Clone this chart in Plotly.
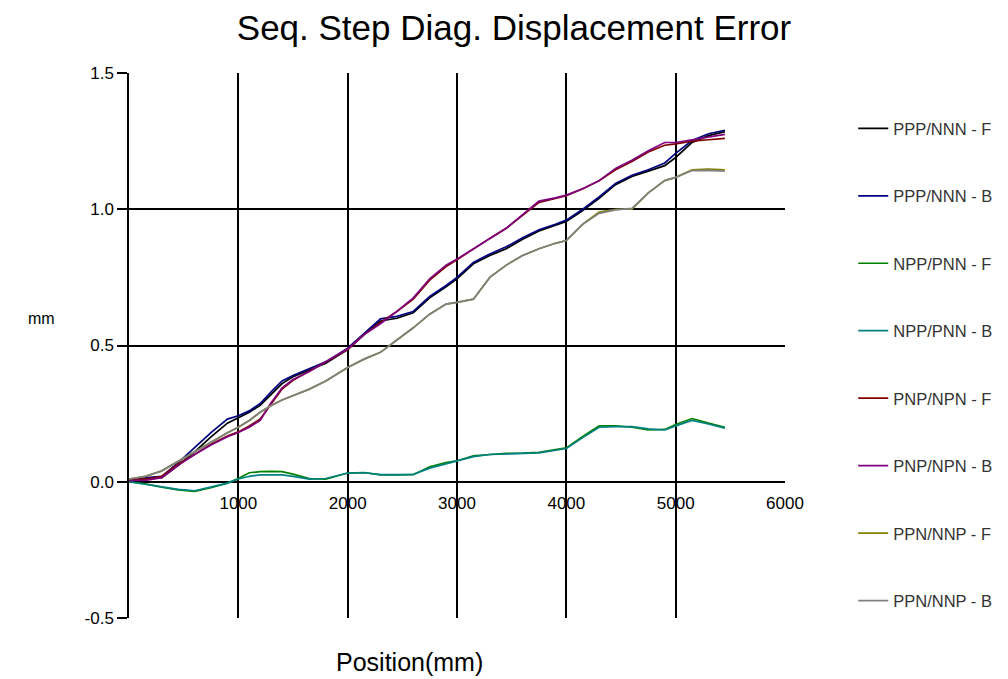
import plotly.graph_objects as go

# Position (mm)
position = [0, 150, 300, 450, 600, 750, 900, 1000, 1100, 1200, 1300, 1400, 1500, 1650, 1800,
            2000, 2150, 2300, 2450, 2600, 2750, 2900, 3000, 3150, 3300, 3450, 3600, 3750, 3900,
            4000, 4150, 4300, 4450, 4600, 4750, 4900, 5000, 5150, 5300, 5450]

ppp_nnn_f = [0.005, 0.01, 0.015, 0.06, 0.11, 0.165, 0.215, 0.235, 0.255, 0.28, 0.32, 0.36, 0.385, 0.41, 0.435,
             0.485, 0.54, 0.59, 0.60, 0.62, 0.675, 0.715, 0.745, 0.80, 0.83, 0.855, 0.89, 0.92, 0.94,
             0.955, 0.995, 1.04, 1.09, 1.12, 1.14, 1.16, 1.19, 1.245, 1.27, 1.285]
ppp_nnn_b = [0.01, 0.015, 0.02, 0.07, 0.126, 0.18, 0.23, 0.242, 0.26, 0.287, 0.33, 0.37, 0.39, 0.415, 0.44,
             0.49, 0.545, 0.598, 0.607, 0.625, 0.68, 0.72, 0.75, 0.805, 0.836, 0.862, 0.895, 0.925, 0.945,
             0.96, 1.0, 1.045, 1.095, 1.125, 1.145, 1.17, 1.205, 1.252, 1.277, 1.29]
npp_pnn_f = [0.0, -0.008, -0.02, -0.03, -0.035, -0.022, -0.005, 0.012, 0.033, 0.037, 0.038, 0.037, 0.028, 0.012, 0.01,
             0.032, 0.034, 0.025, 0.025, 0.026, 0.055, 0.07, 0.077, 0.095, 0.10, 0.104, 0.105, 0.108, 0.118,
             0.124, 0.166, 0.205, 0.205, 0.20, 0.19, 0.192, 0.21, 0.232, 0.215, 0.20]
npp_pnn_b = [0.0, -0.01, -0.02, -0.028, -0.033, -0.02, -0.005, 0.01, 0.02, 0.025, 0.025, 0.025, 0.02, 0.01, 0.012,
             0.032, 0.033, 0.026, 0.026, 0.027, 0.05, 0.066, 0.075, 0.092, 0.10, 0.103, 0.104, 0.106, 0.115,
             0.122, 0.162, 0.20, 0.202, 0.202, 0.194, 0.19, 0.205, 0.225, 0.212, 0.197]
pnp_npn_f = [0.01, 0.01, 0.02, 0.065, 0.10, 0.138, 0.168, 0.183, 0.205, 0.23, 0.285, 0.34, 0.372, 0.405, 0.44,
             0.485, 0.54, 0.585, 0.625, 0.67, 0.74, 0.79, 0.815, 0.855, 0.893, 0.93, 0.978, 1.025, 1.04,
             1.05, 1.075, 1.105, 1.145, 1.175, 1.21, 1.235, 1.24, 1.25, 1.255, 1.26]
pnp_npn_b = [0.005, 0.005, 0.015, 0.06, 0.10, 0.135, 0.165, 0.181, 0.20, 0.225, 0.29, 0.345, 0.375, 0.405, 0.44,
             0.488, 0.54, 0.58, 0.625, 0.675, 0.745, 0.795, 0.817, 0.855, 0.895, 0.93, 0.98, 1.03, 1.042,
             1.052, 1.075, 1.105, 1.15, 1.18, 1.215, 1.245, 1.245, 1.255, 1.265, 1.275]
ppn_nnp_f = [0.01, 0.02, 0.04, 0.075, 0.108, 0.145, 0.18, 0.20, 0.225, 0.255, 0.28, 0.30, 0.315, 0.34, 0.37,
             0.419, 0.45, 0.475, 0.52, 0.565, 0.615, 0.652, 0.658, 0.67, 0.75, 0.795, 0.83, 0.855, 0.875,
             0.885, 0.945, 0.99, 1.0, 1.0, 1.06, 1.105, 1.117, 1.145, 1.147, 1.145]
ppn_nnp_b = [0.01, 0.02, 0.04, 0.075, 0.108, 0.145, 0.18, 0.20, 0.225, 0.255, 0.28, 0.30, 0.315, 0.34, 0.37,
             0.419, 0.45, 0.475, 0.52, 0.565, 0.615, 0.652, 0.658, 0.67, 0.75, 0.795, 0.83, 0.855, 0.875,
             0.885, 0.945, 0.985, 0.998, 1.003, 1.06, 1.105, 1.117, 1.142, 1.143, 1.14]

series_names = ["PPP/NNN - F", "PPP/NNN - B", "NPP/PNN - F", "NPP/PNN - B",
                "PNP/NPN - F", "PNP/NPN - B", "PPN/NNP - F", "PPN/NNP - B"]
series_values = [ppp_nnn_f, ppp_nnn_b, npp_pnn_f, npp_pnn_b,
                 pnp_npn_f, pnp_npn_b, ppn_nnp_f, ppn_nnp_b]
series_colors = ["#000000", "#000080", "#008000", "#008080",
                 "#800000", "#800080", "#808000", "#808080"]

x_ticks = [1000, 2000, 3000, 4000, 5000, 6000]
y_ticks = [-0.5, 0.0, 0.5, 1.0, 1.5]
y_tick_labels = ["-0.5", "0.0", "0.5", "1.0", "1.5"]

FONT = "Liberation Sans, Arial, sans-serif"

fig = go.Figure()
for i, (name, vals, col) in enumerate(zip(series_names, series_values, series_colors)):
    fig.add_trace(go.Scatter(
        x=position, y=vals, mode="lines", name=name,
        line=dict(color=col, width=1.7),
        legendgroup=f"g{i}",
    ))

fig.update_layout(
    width=1000, height=671,
    margin=dict(l=121, r=223, t=65, b=61, autoexpand=False),
    paper_bgcolor="white", plot_bgcolor="white",
    font=dict(family=FONT, size=16, color="#000000"),
    title=dict(text="Seq. Step Diag. Displacement Error", x=0.506, xanchor="center",
               y=0.971, yanchor="middle", font=dict(family=FONT, size=35, color="#000000")),
    showlegend=True,
    legend=dict(x=1.104, xanchor="left", y=0.93, yanchor="top",
                traceorder="grouped", tracegroupgap=43, itemwidth=30,
                font=dict(family=FONT, size=16.5, color="#333333"),
                bgcolor="rgba(0,0,0,0)"),
    xaxis=dict(range=[0, 6000], tickvals=x_ticks, ticktext=[str(v) for v in x_ticks],
               showgrid=True, gridcolor="#000000", gridwidth=1.5,
               zeroline=False, showline=False,
               ticks="outside", ticklen=6, tickcolor="rgba(0,0,0,0)",
               anchor="free", position=0.25,
               tickfont=dict(family=FONT, size=17, color="#000000")),
    yaxis=dict(range=[-0.5, 1.5], tickvals=y_ticks, ticktext=y_tick_labels,
               showgrid=True, gridcolor="#000000", gridwidth=1.5,
               zeroline=False, showline=True, linecolor="#000000", linewidth=1.5,
               ticks="outside", ticklen=10, tickcolor="#000000", tickwidth=1.5,
               tickfont=dict(family=FONT, size=17, color="#000000")),
    annotations=[
        dict(text="mm", x=-0.133, y=0.55, xref="paper", yref="paper", showarrow=False,
             xanchor="center", yanchor="middle",
             font=dict(family=FONT, size=16, color="#000000")),
        dict(text="Position(mm)", x=0.428, y=-0.081, xref="paper", yref="paper", showarrow=False,
             xanchor="center", yanchor="middle",
             font=dict(family=FONT, size=25, color="#000000")),
    ],
)

fig.write_html("out.html")
